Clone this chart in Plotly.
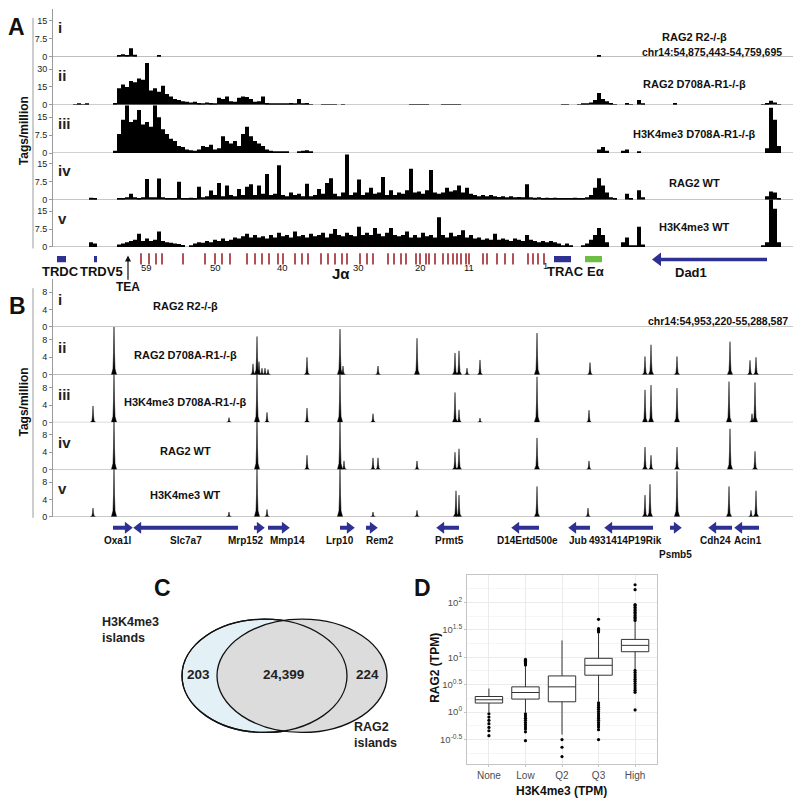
import numpy as np
import plotly.graph_objects as go

W, H = 800, 809
FONT = "Liberation Sans, Arial, Helvetica, sans-serif"


def X(px):
    return px / W


def Y(py):
    return 1 - py / H


# ============================ DATA ============================
# Panel A: tags/million, 185 bins of 4 position units across chr14:54,875,443-54,759,695
A_BIN = 4
A_i = [0, 0, 0, 0, 0, 0, 0, 0, 0, 0,
       0, 0, 0, 0, 0, 0, 0.6, 1.0, 0.3, 3.5,
       0.8, 0, 0, 0, 0, 0, 0.3, 0, 0, 0] + [0] * 100 + \
      [0, 0, 0, 0, 0, 0, 0.3, 0, 0, 0] + [0] * 45
A_ii = [0, 0, 0, 0, 0, 0.4, 0.6, 0.5, 1.0, 0,
        0, 0, 0, 0, 0, 1.5, 14, 17, 15, 20,
        19, 22, 21, 35, 12, 14, 11, 16, 9, 7,
        5, 4, 3, 2.5, 2, 2.5, 1.5, 1, 2, 1.5,
        1, 6, 5, 7, 3, 2.5, 6, 7, 6.5, 5,
        2.5, 3, 7, 1.5, 0.8, 1, 0.6, 1.2, 0.8, 1.5,
        0.8, 5, 1.2, 1.5, 0.5, 0, 0, 0.4, 0.3, 0.5,
        0.3, 0, 0.3, 0, 0, 0, 0, 0, 0, 0,
        0, 0, 0, 0, 0, 0, 0, 0, 0, 0.3,
        0.3, 0.3, 0.3, 0.3, 0, 0, 0, 0.3, 0.3, 0.3,
        0.3, 0.3, 0, 0, 0, 0, 0, 0, 0, 0,
        0, 0, 0, 0, 0, 0, 0, 0, 0, 0,
        0, 0, 0, 0, 0, 0, 0, 0.3, 0.3, 0,
        0, 0.5, 0.8, 1, 2, 4, 10, 5, 3, 1.5,
        0.5, 0, 0, 1.5, 0.5, 0, 4, 1, 0, 0,
        0, 0, 0, 0, 0, 1.5, 0, 0, 0, 0,
        0, 0, 0, 0, 0, 0, 0, 0, 0, 0,
        0, 0, 0, 0, 0, 0, 0, 0.5, 1.5, 3.5,
        2, 0.5, 0, 0, 0]
A_iii = [0, 0, 0, 0, 0, 0, 0, 0, 0, 0,
         0, 0, 0, 0, 0, 1, 8, 14, 20, 13,
         14, 18, 12, 13, 11, 20, 15, 10, 8, 6,
         5, 3, 2.5, 1.5, 1.2, 1, 1.5, 3, 2.5, 3.5,
         1.5, 2, 7, 5, 4, 5, 3, 8, 11, 7,
         5, 4, 3, 1.5, 1, 0.7, 0.5, 0.8, 0.4, 0,
         0, 0.8, 1, 1.2, 0.6, 0, 0, 0, 0, 0] + [0] * 60 + \
        [0, 0, 0, 0, 0, 0, 1.5, 2.5, 1, 0,
         0, 0, 1, 1.5, 0, 0, 0.5, 0, 0, 0] + [0] * 20 + \
        [0, 0, 0, 0, 0, 0, 0, 0, 2, 19,
         14, 3, 0, 0, 0]
A_iv = [0, 0, 0, 0, 0, 0, 0, 0, 0, 0.8,
        0.3, 0, 0, 0, 0, 0, 0.6, 0.3, 1, 2.5,
        1, 0.5, 1, 8.7, 1, 1, 8.9, 1, 0.5, 0.5,
        0.3, 7.6, 0.5, 0.3, 0.8, 0.5, 5.5, 1, 1.5, 3.9,
        2, 7, 1.5, 6, 2, 1.5, 4.5, 2, 5.5, 6.5,
        2, 6, 2.5, 10.8, 2, 2.5, 14.5, 2, 1.5, 3,
        2, 2.5, 1.5, 6.7, 1.5, 2, 4.5, 2.5, 7, 9,
        2.5, 1.5, 3, 19, 2, 3, 8.5, 2, 3, 5,
        2.5, 3, 9.5, 2, 4, 2, 3, 2.5, 4, 13,
        3, 3.5, 2.5, 4, 12.5, 3, 2.5, 3, 5, 3.5,
        4, 6, 3, 5, 2.5, 2, 1.5, 2, 1.5, 2,
        1.5, 1.2, 1.5, 1, 1.5, 1, 1.2, 1, 6.5, 1,
        0.8, 1, 0.6, 0.8, 0.5, 0.8, 0.6, 0.7, 0.5, 0.6,
        0.8, 0.5, 0.7, 1, 2, 5, 9, 6, 3, 1,
        0.3, 0, 0, 2.5, 0.5, 0, 4, 1, 0, 0] + [0] * 20 + \
       [0, 0, 0, 0, 0, 0, 0, 0, 1.5, 3.5,
        3, 0.5, 0, 0, 0]
A_v = [0, 0, 0, 0, 0, 0, 0, 0, 0, 2,
       1.5, 0, 0, 0, 0, 0, 1, 1.5, 2, 2.5,
       3, 5.5, 2.5, 3.5, 2.5, 3, 6.5, 2.5, 2, 1.8,
       1.5, 1.2, 0.8, 0, 0.3, 1.5, 2, 1.8, 2.5, 2,
       3, 2.5, 3.5, 2.5, 3, 4, 3.5, 4.5, 5.5, 4,
       5, 4, 4.5, 3.5, 5, 4, 6, 4.5, 5, 4,
       6.5, 4.5, 5, 4, 5.5, 4.5, 5, 6, 4, 5.5,
       7.5, 5, 4.5, 6, 5, 4.5, 8.5, 5, 6, 5,
       8, 5.5, 4.5, 6, 8, 5, 4.5, 5, 6.5, 4,
       5, 4, 6, 4.5, 5, 4, 12.5, 5, 4, 6,
       4.5, 5, 7, 4, 5, 3.5, 4, 3, 3.5, 3,
       5.5, 3, 3.5, 3, 2.5, 3.5, 3, 2.5, 5, 3,
       2.5, 2, 2.5, 2, 2.5, 2, 1.5, 0.3, 1.5, 0.3,
       0, 0, 0.5, 1.5, 3, 5, 8, 5, 2, 0,
       0, 0, 2, 4, 0.5, 0.5, 8.5, 1, 0, 0] + [0] * 20 + \
      [0, 0, 0, 0, 0, 0, 0, 0.5, 2, 20,
       16, 2, 0, 0, 0]
A_tracks = [A_i, A_ii, A_iii, A_iv, A_v]
A_names = ["RAG2 R2-/-β", "RAG2 D708A-R1-/-β", "H3K4me3 D708A-R1-/-β", "RAG2 WT", "H3K4me3 WT"]
A_ymax = [20, 40, 20, 20, 20]
A_ticks = [[0, 7.5, 15], [0, 15, 30], [0, 7.5, 15], [0, 7.5, 15], [0, 7.5, 15]]
A_region = "chr14:54,875,443-54,759,695"

# Panel A annotation features (position units, same scale as bins)
A_box_names = ["TRDC", "TRDV5", "TRAC", "Eα"]
A_box_start = [4, 41, 501, 532]
A_box_end = [13, 44, 518, 549]
A_box_colors = ["#2e3192", "#2e3192", "#2e3192", "#6cbe45"]
Ja_pos = [88, 96, 103, 109, 130, 152, 162, 169, 177, 194, 202, 209, 216, 225, 230,
          242, 249, 255, 268, 275, 282, 289, 294, 307, 314, 320, 335, 341, 348, 353,
          363, 367, 373, 376, 382, 390, 395, 400, 404, 408, 413, 416, 430, 434, 444,
          452, 460, 475, 480, 485, 491]
Ja_labels = ["59", "50", "40", "30", "20", "11", "1"]
Ja_label_pos = [93, 162, 229, 305, 367, 416, 492]
Dad1_start, Dad1_end = 714, 599
TEA_pos = 75

# Panel B: peaks (position units across chr14:54,953,220-55,288,587), heights tags/million
B_region = "chr14:54,953,220-55,288,587"
B_pos = [
    [],
    [61, 200, 204, 206, 209, 212, 215, 254, 287, 290, 325, 364, 402, 406, 414, 427,
     484, 537, 592, 598, 624, 677, 697, 703],
    [40, 61, 176, 204, 214, 254, 287, 320, 402, 406, 427, 484, 536, 592, 598, 624,
     676, 699, 702],
    [61, 204, 254, 287, 291, 320, 325, 364, 402, 406, 484, 536, 592, 598, 624, 677, 702],
    [40, 61, 176, 204, 214, 287, 320, 364, 403, 406, 484, 535, 592, 597, 624, 676, 698, 703],
]
B_h = [
    [],
    [11.5, 2.5, 8.8, 3, 1.5, 1.5, 1.2, 4, 10.5, 2, 2, 8.4, 5, 5.5, 1.5, 3.4,
     9.6, 2.8, 4.2, 6.9, 4.2, 7.6, 3.3, 4],
    [3.8, 11.5, 1.1, 11.5, 2.3, 3.3, 11.5, 2, 6.9, 2.9, 1, 10.5, 2.8, 7.5, 8.6, 7.9,
     9.4, 2, 9.2],
    [11.5, 11.5, 3.3, 11.5, 2, 2.7, 2.7, 2, 4, 4.8, 7.3, 2, 5.2, 3.3, 5.2, 9.4, 4.2],
    [2, 11.5, 1.1, 11.5, 1.7, 11.5, 1.1, 1.5, 6, 5, 7, 2, 5, 7.5, 10.5, 7, 1.5, 6],
]
B_names = A_names
B_ticks = [0, 4, 8]
B_ymax = 11

# Panel B genes (tail -> head, position units)
B_genes = ["Oxa1l", "Slc7a7", "Mrp152", "Mmp14", "Lrp10", "Rem2", "Prmt5",
           "D14Ertd500e", "Jub", "4931414P19Rik", "Psmb5", "Cdh24", "Acin1"]
B_gene_tail = [60, 185, 201, 215, 287, 313, 406, 486, 537, 600, 617, 679, 706]
B_gene_head = [79, 81, 211, 236, 301, 324, 384, 459, 516, 552, 628, 656, 682]
B_label_pos = [64, 133, 192, 234, 287, 327, 396, 474, 525, 572, 622, 662, 695]
B_label_row = [0, 0, 0, 0, 0, 0, 0, 0, 0, 0, 1, 0, 0]

# Panel C: Venn counts
C_left_only, C_both, C_right_only = "203", "24,399", "224"
C_left_name, C_right_name = "H3K4me3<br>islands", "RAG2<br>islands"

# Panel D: RAG2 (TPM) by H3K4me3 class; box statistics in log10(TPM)
D_cats = ["None", "Low", "Q2", "Q3", "High"]
D_q1 = [0.165, 0.237, 0.188, 0.672, 1.100]
D_med = [0.225, 0.357, 0.460, 0.853, 1.216]
D_q3 = [0.284, 0.460, 0.659, 0.980, 1.324]
D_lo = [-0.005, -0.005, -0.410, 0.194, 0.781]
D_hi = [0.429, 0.841, 1.306, 1.433, 1.643]
D_out = {
    "None": [-0.03, -0.09, -0.15, -0.21, -0.28, -0.34, -0.43],
    "Low": [0.86, 0.88, 0.90, 0.92, 0.94, 0.96,
            -0.03, -0.07, -0.11, -0.15, -0.19, -0.23, -0.27, -0.31, -0.36, -0.52],
    "Q2": [-0.50, -0.64, -0.81],
    "Q3": [1.46, 1.48, 1.50, 1.52, 1.69,
           0.17, 0.13, 0.09, 0.05, 0.01, -0.03, -0.07, -0.11, -0.15, -0.19, -0.23,
           -0.27, -0.32, -0.50],
    "High": [1.67, 1.70, 1.73, 1.76, 1.79, 1.82, 1.85, 1.88, 1.91, 1.94, 1.96, 2.23, 2.32,
             0.76, 0.72, 0.68, 0.64, 0.60, 0.56, 0.52, 0.48, 0.44, 0.40, 0.36, 0.04],
}
D_ytick_exp = [-0.5, 0, 0.5, 1, 1.5, 2]

for t in A_tracks:
    assert len(t) == 185, len(t)

# ============================ LAYOUT ============================
A_base_px = [57, 105.5, 154, 201, 248.5]
B_base_px = [329, 377, 425, 472.5, 520]
TRACK_PX = 48
GRAY = "#9a9a9a"
BLUE = "#2e3192"
RED = "#a0252b"

fig = go.Figure()
layout = dict(
    width=W, height=H, autosize=False,
    margin=dict(l=0, r=0, t=0, b=0),
    paper_bgcolor="white", plot_bgcolor="rgba(0,0,0,0)",
    showlegend=False, barmode="overlay", boxmode="overlay",
    font=dict(family=FONT, color="#111"),
)
layout["xaxis"] = dict(domain=[X(53), X(793)], range=[0, 185 * A_BIN], visible=False,
                       anchor="y5", fixedrange=True)
layout["xaxis2"] = dict(domain=[X(53), X(793)], range=[0, 185 * A_BIN], visible=False,
                        anchor="y10", fixedrange=True)

shapes, annots = [], []


def track_axis(base, ymax, ticks, xa):
    return dict(domain=[Y(base), Y(base - TRACK_PX)], range=[0, ymax], anchor=xa,
                tickvals=ticks, ticktext=[("%g" % t) for t in ticks],
                showline=True, linecolor=GRAY, linewidth=1, ticks="outside", ticklen=3,
                tickcolor=GRAY, tickfont=dict(size=9, color="#222", family=FONT),
                showgrid=False, zeroline=False, fixedrange=True)


roman = ["i", "ii", "iii", "iv", "v"]
A_label_y = [37, 85, 135, 184, 228]
A_roman_y = [28, 76, 124, 172, 220]
for k in range(5):
    yname = "yaxis" if k == 0 else "yaxis%d" % (k + 1)
    layout[yname] = track_axis(A_base_px[k], A_ymax[k], A_ticks[k], "x")
    yref = "y" if k == 0 else "y%d" % (k + 1)
    xs = [A_BIN * (i + 0.5) for i in range(len(A_tracks[k]))]
    fig.add_trace(go.Bar(x=xs, y=A_tracks[k], width=A_BIN, xaxis="x", yaxis=yref,
                         marker=dict(color="black", line=dict(width=0)),
                         hoverinfo="skip"))
    shapes.append(dict(type="line", xref="x", yref=yref, x0=0, x1=185 * A_BIN, y0=0, y1=0,
                       line=dict(color=GRAY, width=1), layer="below"))
    annots.append(dict(text="<b>%s</b>" % roman[k], x=X(56), y=Y(A_roman_y[k]), xref="paper",
                       yref="paper", xanchor="left", yanchor="middle", showarrow=False,
                       font=dict(size=15, color="#222")))
    annots.append(dict(text="<b>%s</b>" % A_names[k], x=X(694), y=Y(A_label_y[k]),
                       xref="paper", yref="paper", xanchor="center", yanchor="middle",
                       showarrow=False, font=dict(size=11, color="#111")))
annots.append(dict(text="<b>%s</b>" % A_region, x=X(784), y=Y(52), xref="paper", yref="paper",
                   xanchor="right", yanchor="middle", showarrow=False,
                   font=dict(size=10.5, color="#111")))

# B peaks
PEAK_DX = [-2.6, -1.0, -0.45, 0.0, 0.45, 1.0, 2.6]
PEAK_FR = [0.0, 0.12, 0.45, 1.0, 0.45, 0.12, 0.0]
B_label_y = [308, 357, 405, 454, 498]
B_roman_y = [301, 350, 397, 445, 492]
for k in range(5):
    ynum = 6 + k
    layout["yaxis%d" % ynum] = track_axis(B_base_px[k], B_ymax, B_ticks, "x2")
    yref = "y%d" % ynum
    xs, ys = [], []
    for p, h in zip(B_pos[k], B_h[k]):
        xs += [p + d for d in PEAK_DX] + [None]
        ys += [h * f for f in PEAK_FR] + [None]
    if xs:
        fig.add_trace(go.Scatter(x=xs, y=ys, mode="lines", fill="toself", fillcolor="black",
                                 line=dict(color="black", width=0.5), xaxis="x2", yaxis=yref,
                                 hoverinfo="skip"))
    shapes.append(dict(type="line", xref="x2", yref=yref, x0=0, x1=185 * A_BIN, y0=0, y1=0,
                       line=dict(color=GRAY, width=1), layer="below"))
    annots.append(dict(text="<b>%s</b>" % roman[k], x=X(56), y=Y(B_roman_y[k]), xref="paper",
                       yref="paper", xanchor="left", yanchor="middle", showarrow=False,
                       font=dict(size=15, color="#222")))
    annots.append(dict(text="<b>%s</b>" % B_names[k], x=X(185), y=Y(B_label_y[k]),
                       xref="paper", yref="paper", xanchor="center", yanchor="middle",
                       showarrow=False, font=dict(size=11, color="#111")))
annots.append(dict(text="<b>%s</b>" % B_region, x=X(790), y=Y(323), xref="paper", yref="paper",
                   xanchor="right", yanchor="middle", showarrow=False,
                   font=dict(size=10.5, color="#111")))

# big left spines and Tags/million
for (y0, y1, yc) in [(18, 250, 132), (290, 521, 405)]:
    shapes.append(dict(type="line", xref="paper", yref="paper", x0=X(33), x1=X(33),
                       y0=Y(y0), y1=Y(y1), line=dict(color=GRAY, width=1)))
    annots.append(dict(text="<b>Tags/million</b>", x=X(24), y=Y(yc), xref="paper",
                       yref="paper", textangle=-90, showarrow=False,
                       font=dict(size=12, color="#111")))
annots.append(dict(text="<b>A</b>", x=X(16), y=Y(27), xref="paper", yref="paper",
                   showarrow=False, font=dict(size=23, color="#111")))
annots.append(dict(text="<b>B</b>", x=X(17), y=Y(308), xref="paper", yref="paper",
                   showarrow=False, font=dict(size=23, color="#111")))

# ---- A gene band (y value == pixel row) ----
layout["yaxis11"] = dict(domain=[Y(300), Y(250)], range=[300, 250], anchor="x",
                         visible=False, fixedrange=True)
fig.add_trace(go.Scatter(x=Ja_pos, y=[260.5] * len(Ja_pos), mode="markers", xaxis="x",
                         yaxis="y11", hoverinfo="skip",
                         marker=dict(symbol="line-ns-open", size=8, color=RED,
                                     line=dict(color=RED, width=1.6))))
for nm, s, e, c in zip(A_box_names, A_box_start, A_box_end, A_box_colors):
    shapes.append(dict(type="rect", xref="x", yref="y11", x0=s, x1=e, y0=257.5, y1=264,
                       fillcolor=c, line=dict(width=0)))
fig.add_trace(go.Scatter(x=[Dad1_start, Dad1_end + 8], y=[261, 261], mode="lines", xaxis="x",
                         yaxis="y11", line=dict(color=BLUE, width=3.5), hoverinfo="skip"))
fig.add_trace(go.Scatter(x=[Dad1_end + 6], y=[261], mode="markers", xaxis="x", yaxis="y11",
                         marker=dict(symbol="triangle-left", size=12, color=BLUE),
                         hoverinfo="skip"))
A_text = [("TRDC", 7, 273, 13), ("TRDV5", 48, 273, 13), ("TRAC", 512, 273, 13),
          ("Eα", 542, 273, 13), ("Dad1", 638, 274, 13), ("Jα", 288, 275, 15),
          ("TEA", TEA_pos, 289, 12)]
for t, xx, yy, fs in A_text:
    annots.append(dict(text="<b>%s</b>" % t, x=xx, y=Y(yy), xref="x", yref="paper",
                       showarrow=False, font=dict(size=fs, color="#111")))
for t, xx in zip(Ja_labels, Ja_label_pos):
    annots.append(dict(text=t, x=xx, y=Y(269 if t != "1" else 267), xref="x", yref="paper",
                       showarrow=False, font=dict(size=9.5, color="#111")))
annots.append(dict(text="", x=TEA_pos, y=257, xref="x", yref="y11", ax=TEA_pos, ay=283,
                   axref="x", ayref="y11", showarrow=True, arrowhead=2, arrowsize=1,
                   arrowwidth=1.2, arrowcolor="#111"))

# ---- B gene band ----
layout["yaxis12"] = dict(domain=[Y(570), Y(522)], range=[570, 522], anchor="x2",
                         visible=False, fixedrange=True)
for g, t, h, lp, row in zip(B_genes, B_gene_tail, B_gene_head, B_label_pos, B_label_row):
    d = 1 if h > t else -1
    fig.add_trace(go.Scatter(x=[t, h - d * 5], y=[531, 531], mode="lines", xaxis="x2",
                             yaxis="y12", line=dict(color=BLUE, width=4), hoverinfo="skip"))
    fig.add_trace(go.Scatter(x=[h - d * 4.5], y=[531], mode="markers", xaxis="x2", yaxis="y12",
                             marker=dict(symbol="triangle-right" if d > 0 else "triangle-left",
                                         size=10.5, color=BLUE), hoverinfo="skip"))
    annots.append(dict(text="<b>%s</b>" % g, x=lp, y=Y(544 if row == 0 else 558), xref="x2",
                       yref="paper", showarrow=False, font=dict(size=10, color="#111")))

# ---- C Venn ----
shapes.append(dict(type="circle", xref="paper", yref="paper", x0=X(182), x1=X(347),
                   y0=Y(737), y1=Y(623), fillcolor="#e3f1f7", line=dict(color="#111", width=1.3)))
shapes.append(dict(type="circle", xref="paper", yref="paper", x0=X(217), x1=X(387),
                   y0=Y(737), y1=Y(623), fillcolor="#dcdcdc", line=dict(color="#111", width=1.3)))
shapes.append(dict(type="circle", xref="paper", yref="paper", x0=X(182), x1=X(347),
                   y0=Y(737), y1=Y(623), fillcolor="rgba(0,0,0,0)",
                   line=dict(color="#111", width=1.3)))
for t, xx in [(C_left_only, 198), (C_both, 283), (C_right_only, 367)]:
    annots.append(dict(text="<b>%s</b>" % t, x=X(xx), y=Y(679), xref="paper", yref="paper",
                       showarrow=False, font=dict(size=13.5, color="#222")))
annots.append(dict(text="<b>%s</b>" % C_left_name, x=X(100), y=Y(634), xref="paper",
                   yref="paper", xanchor="left", align="left", showarrow=False,
                   font=dict(size=12.5, color="#222")))
annots.append(dict(text="<b>%s</b>" % C_right_name, x=X(352), y=Y(740), xref="paper",
                   yref="paper", xanchor="left", align="left", showarrow=False,
                   font=dict(size=12.5, color="#222")))
annots.append(dict(text="<b>C</b>", x=X(162), y=Y(592), xref="paper", yref="paper",
                   showarrow=False, font=dict(size=23, color="#111")))

# ---- D boxplot ----
layout["xaxis3"] = dict(domain=[X(467), X(657)], anchor="y13", type="category",
                        categoryorder="array", categoryarray=D_cats, range=[-0.6, 4.6],
                        showgrid=True, gridcolor="#ebebeb", showline=True, mirror=True,
                        linecolor="#c4c4c4", ticks="outside", ticklen=2, tickcolor="#c4c4c4",
                        tickfont=dict(size=10, color="#4d4d4d"), fixedrange=True, zeroline=False)
layout["yaxis13"] = dict(domain=[Y(769), Y(579)], anchor="x3", type="log",
                         range=[-0.95, 2.49],
                         tickvals=[10 ** e for e in D_ytick_exp],
                         ticktext=["10<sup>%g</sup>" % e for e in D_ytick_exp],
                         showgrid=True, gridcolor="#ebebeb", showline=True, mirror=True,
                         linecolor="#c4c4c4", ticks="outside", ticklen=2, tickcolor="#c4c4c4",
                         tickfont=dict(size=9.5, color="#4d4d4d"), fixedrange=True,
                         zeroline=False,
                         minor=dict(tickvals=[10 ** (e + 0.25) for e in [-1.0] + D_ytick_exp],
                                    showgrid=True, gridcolor="#f5f5f5", ticks=""))
fig.add_trace(go.Box(x=D_cats, q1=[10 ** v for v in D_q1], median=[10 ** v for v in D_med],
                     q3=[10 ** v for v in D_q3], lowerfence=[10 ** v for v in D_lo],
                     upperfence=[10 ** v for v in D_hi], xaxis="x3", yaxis="y13",
                     fillcolor="white", line=dict(color="#333", width=1), width=0.75,
                     whiskerwidth=0, boxpoints=False, hoverinfo="skip"))
ox, oy = [], []
for c in D_cats:
    ox += [c] * len(D_out[c])
    oy += [10 ** v for v in D_out[c]]
fig.add_trace(go.Scatter(x=ox, y=oy, mode="markers", xaxis="x3", yaxis="y13",
                         marker=dict(size=3.2, color="black"), hoverinfo="skip"))
annots.append(dict(text="<b>RAG2 (TPM)</b>", x=X(435), y=Y(672), xref="paper", yref="paper",
                   textangle=-90, showarrow=False, font=dict(size=12, color="#111")))
annots.append(dict(text="<b>H3K4me3 (TPM)</b>", x=X(561), y=Y(796), xref="paper",
                   yref="paper", showarrow=False, font=dict(size=12, color="#111")))
annots.append(dict(text="<b>D</b>", x=X(422), y=Y(592), xref="paper", yref="paper",
                   showarrow=False, font=dict(size=23, color="#111")))

for a in annots:
    a.setdefault("xanchor", "center")
    a.setdefault("yanchor", "middle")

layout["shapes"] = shapes
layout["annotations"] = annots
fig.update_layout(**layout)
fig.write_html("out.html", config={"displayModeBar": False},
               post_script="document.body.style.margin='0';document.body.style.padding='0';"
                           "document.body.style.overflow='hidden';")
